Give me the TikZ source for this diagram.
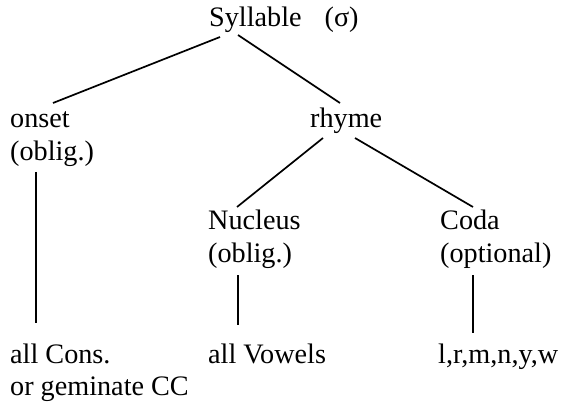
\documentclass[tikz,border=0pt]{standalone}
\usepackage{fontspec}
\setmainfont{Liberation Serif}
\begin{document}
\begin{tikzpicture}[x=1pt,y=-1pt,
  lbl/.style={anchor=base west,inner sep=0pt,font=\fontsize{28.2}{33}\selectfont},
  edge/.style={line width=1.7pt}]
\useasboundingbox (0,0) rectangle (561,403);
% labels
\node[lbl] (syl) at (209,27) {Syllable\hspace{23pt}(σ)};
\node[lbl] (onset) at (10,128) {onset};
\node[lbl] (onsetb) at (10,161) {(oblig.)};
\node[lbl] (rhyme) at (310,128) {rhyme};
\node[lbl] (nuc) at (208,229) {Nucleus};
\node[lbl] (nucb) at (208,262) {(oblig.)};
\node[lbl] (coda) at (440,229) {Coda};
\node[lbl] (codab) at (440,262) {(optional)};
\node[lbl] (cons) at (10,363) {all Cons.};
\node[lbl] (consb) at (10,395) {or geminate CC};
\node[lbl] (vow) at (208,363) {all Vowels};
\node[lbl] (son) at (438,363) {l,r,m,n,y,w};
% connector end points
\coordinate (s1) at (220,37);
\coordinate (s2) at (238,35);
\coordinate (o1) at (53,103);
\coordinate (r0) at (340,103);
\coordinate (r1) at (323,138);
\coordinate (r2) at (355,138);
\coordinate (n0) at (237,207);
\coordinate (c0) at (473,207);
\coordinate (o2) at (36,172);
\coordinate (o3) at (36,323);
\coordinate (n1) at (238,275);
\coordinate (n2) at (238,325);
\coordinate (c1) at (473,275);
\coordinate (c2) at (473,333);
% connectors
\draw[edge] (s1) -- (o1);
\draw[edge] (s2) -- (r0);
\draw[edge] (r1) -- (n0);
\draw[edge] (r2) -- (c0);
\draw[edge] (o2) -- (o3);
\draw[edge] (n1) -- (n2);
\draw[edge] (c1) -- (c2);
\end{tikzpicture}
\end{document}
